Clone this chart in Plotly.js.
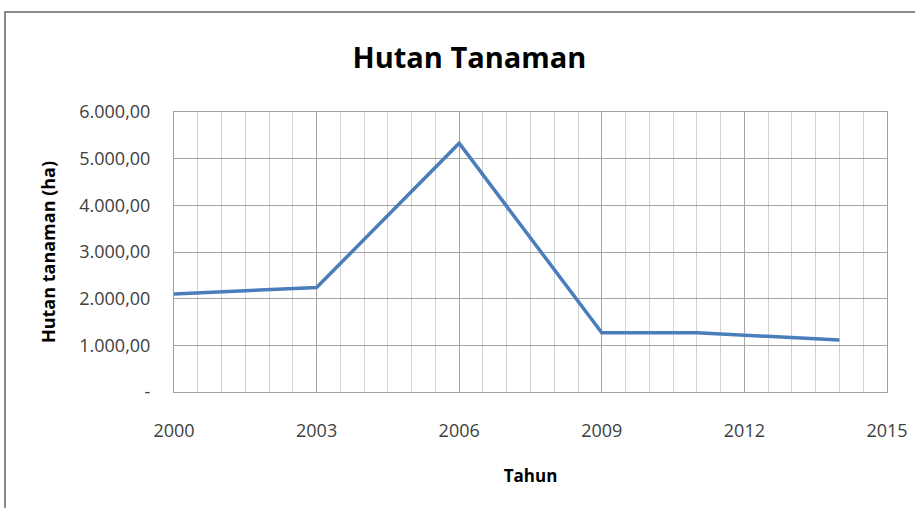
<!DOCTYPE html>
<html>
<head>
<meta charset="utf-8">
<script src="https://cdn.plot.ly/plotly-3.0.1.min.js"></script>
<style>
  html, body { margin: 0; padding: 0; background: #fff; overflow: hidden; }
  #wrap { position: relative; width: 915px; height: 508px; }
  #chart { position: absolute; left: 0; top: 0; width: 915px; height: 508px; }
  #frame { position: absolute; left: 4px; top: 11px; width: 960px; height: 560px;
           border: 2px solid #8a8a8a; pointer-events: none; }
</style>
</head>
<body>
<div id="wrap">
  <div id="chart"></div>
  <div id="frame"></div>
</div>
<script>
// Planted forest area per year (ha)
const years = [2000, 2003, 2006, 2009, 2011, 2014];
const hutanTanaman = [2100, 2240, 5330, 1270, 1270, 1115];

// Y-axis ticks in Indonesian number format
const yTickVals = [0, 1000, 2000, 3000, 4000, 5000, 6000];
const yTickText = ['-', '1.000,00', '2.000,00', '3.000,00', '4.000,00', '5.000,00', '6.000,00'];

const FONT = 'Open Sans, Lato, sans-serif';

const trace = {
  x: years,
  y: hutanTanaman,
  type: 'scatter',
  mode: 'lines',
  line: { color: '#4a7ebb', width: 3.5 },
  hoverinfo: 'x+y'
};

const layout = {
  width: 915,
  height: 508,
  margin: { l: 174, r: 28, t: 112, b: 116 },
  paper_bgcolor: '#ffffff',
  plot_bgcolor: '#ffffff',
  showlegend: false,
  font: { family: FONT, color: '#404040' },
  title: {
    text: '<b>Hutan Tanaman</b>',
    font: { family: FONT, size: 29, color: '#000000' },
    xref: 'container', x: 0.513, xanchor: 'center',
    yref: 'container', y: 1 - 58 / 508, yanchor: 'middle'
  },
  xaxis: {
    range: [2000, 2015],
    tickmode: 'linear', tick0: 2000, dtick: 3,
    tickformat: 'd',
    showgrid: true, gridcolor: '#a4a4a4', gridwidth: 1,
    minor: { dtick: 0.5, tick0: 2000, showgrid: true, gridcolor: '#d2d2d2', gridwidth: 1 },
    showline: true, linecolor: '#a0a0a0', linewidth: 1, mirror: true,
    zeroline: false,
    ticks: '', ticklabelstandoff: 22,
    tickfont: { family: FONT, size: 18, color: '#404040' },
    title: {
      text: '<b>Tahun</b>',
      font: { family: FONT, size: 17, color: '#000000' },
      standoff: 29
    }
  },
  yaxis: {
    range: [0, 6000],
    tickmode: 'array', tickvals: yTickVals, ticktext: yTickText,
    showgrid: true, gridcolor: '#a4a4a4', gridwidth: 1,
    showline: true, linecolor: '#a0a0a0', linewidth: 1, mirror: true,
    zeroline: false,
    ticks: '', ticklabelstandoff: 19,
    tickfont: { family: FONT, size: 18, color: '#404040' },
    title: {
      text: '<b>Hutan tanaman (ha)</b>',
      font: { family: FONT, size: 18, color: '#000000' },
      standoff: 18
    }
  }
};

Plotly.newPlot('chart', [trace], layout, { displayModeBar: false, staticPlot: true });
</script>
</body>
</html>
